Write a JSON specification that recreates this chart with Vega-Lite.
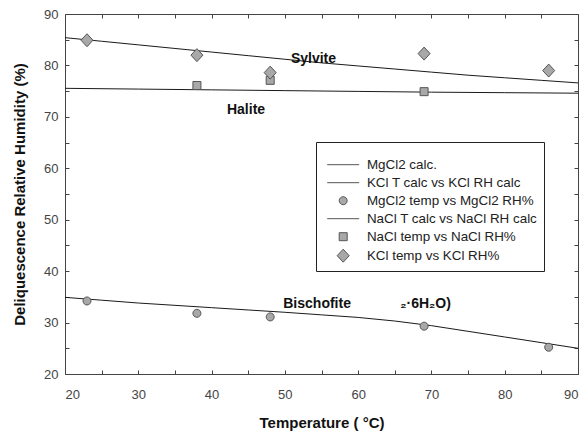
{
  "$schema": "https://vega.github.io/schema/vega-lite/v6.json",
  "width": 513,
  "height": 360,
  "autosize": {"type": "none"},
  "padding": {"left": 65, "top": 14, "right": 10, "bottom": 58},
  "config": {
    "font": "Liberation Sans",
    "view": {"stroke": null},
    "axis": {
      "grid": false,
      "domainColor": "#444",
      "tickColor": "#444",
      "tickSize": -4,
      "labelColor": "#444",
      "labelFontSize": 13,
      "labelFont": "Liberation Sans",
      "titleFont": "Liberation Sans",
      "titleFontSize": 15,
      "titleFontWeight": "bold",
      "titleColor": "#111"
    }
  },
  "datasets": {
    "calc": [
      {"series": "MgCl2 calc.", "t": 20, "rh": 34.9},
      {"series": "MgCl2 calc.", "t": 25, "rh": 34.35},
      {"series": "MgCl2 calc.", "t": 30, "rh": 33.8},
      {"series": "MgCl2 calc.", "t": 35, "rh": 33.35},
      {"series": "MgCl2 calc.", "t": 40, "rh": 32.9},
      {"series": "MgCl2 calc.", "t": 45, "rh": 32.45},
      {"series": "MgCl2 calc.", "t": 50, "rh": 32.0},
      {"series": "MgCl2 calc.", "t": 55, "rh": 31.5},
      {"series": "MgCl2 calc.", "t": 60, "rh": 31.0},
      {"series": "MgCl2 calc.", "t": 65, "rh": 30.3},
      {"series": "MgCl2 calc.", "t": 70, "rh": 29.4},
      {"series": "MgCl2 calc.", "t": 75, "rh": 28.3},
      {"series": "MgCl2 calc.", "t": 80, "rh": 27.2},
      {"series": "MgCl2 calc.", "t": 85, "rh": 26.1},
      {"series": "MgCl2 calc.", "t": 90, "rh": 25.0},
      {"series": "KCl T calc vs KCl RH calc", "t": 20, "rh": 85.4},
      {"series": "KCl T calc vs KCl RH calc", "t": 25, "rh": 84.7},
      {"series": "KCl T calc vs KCl RH calc", "t": 30, "rh": 84.0},
      {"series": "KCl T calc vs KCl RH calc", "t": 35, "rh": 83.3},
      {"series": "KCl T calc vs KCl RH calc", "t": 40, "rh": 82.6},
      {"series": "KCl T calc vs KCl RH calc", "t": 45, "rh": 81.9},
      {"series": "KCl T calc vs KCl RH calc", "t": 50, "rh": 81.2},
      {"series": "KCl T calc vs KCl RH calc", "t": 55, "rh": 80.5},
      {"series": "KCl T calc vs KCl RH calc", "t": 60, "rh": 79.9},
      {"series": "KCl T calc vs KCl RH calc", "t": 65, "rh": 79.3},
      {"series": "KCl T calc vs KCl RH calc", "t": 70, "rh": 78.7},
      {"series": "KCl T calc vs KCl RH calc", "t": 75, "rh": 78.1},
      {"series": "KCl T calc vs KCl RH calc", "t": 80, "rh": 77.6},
      {"series": "KCl T calc vs KCl RH calc", "t": 85, "rh": 77.1},
      {"series": "KCl T calc vs KCl RH calc", "t": 90, "rh": 76.6},
      {"series": "NaCl T calc vs NaCl RH calc", "t": 20, "rh": 75.55},
      {"series": "NaCl T calc vs NaCl RH calc", "t": 30, "rh": 75.4},
      {"series": "NaCl T calc vs NaCl RH calc", "t": 40, "rh": 75.25},
      {"series": "NaCl T calc vs NaCl RH calc", "t": 50, "rh": 75.1},
      {"series": "NaCl T calc vs NaCl RH calc", "t": 60, "rh": 74.95},
      {"series": "NaCl T calc vs NaCl RH calc", "t": 70, "rh": 74.8},
      {"series": "NaCl T calc vs NaCl RH calc", "t": 80, "rh": 74.7},
      {"series": "NaCl T calc vs NaCl RH calc", "t": 90, "rh": 74.6}
    ],
    "meas": [
      {"series": "MgCl2 temp vs MgCl2 RH%", "t": 23, "rh": 34.2},
      {"series": "MgCl2 temp vs MgCl2 RH%", "t": 38, "rh": 31.8},
      {"series": "MgCl2 temp vs MgCl2 RH%", "t": 48, "rh": 31.1},
      {"series": "MgCl2 temp vs MgCl2 RH%", "t": 69, "rh": 29.3},
      {"series": "MgCl2 temp vs MgCl2 RH%", "t": 86, "rh": 25.2},
      {"series": "NaCl temp vs NaCl RH%", "t": 38, "rh": 76.1},
      {"series": "NaCl temp vs NaCl RH%", "t": 48, "rh": 77.1},
      {"series": "NaCl temp vs NaCl RH%", "t": 69, "rh": 74.9},
      {"series": "KCl temp vs KCl RH%", "t": 23, "rh": 84.9},
      {"series": "KCl temp vs KCl RH%", "t": 38, "rh": 82.0},
      {"series": "KCl temp vs KCl RH%", "t": 48, "rh": 78.6},
      {"series": "KCl temp vs KCl RH%", "t": 69, "rh": 82.3},
      {"series": "KCl temp vs KCl RH%", "t": 86, "rh": 79.0}
    ],
    "labels": [
      {"label": "Sylvite", "t": 53.9, "rh": 81.2},
      {"label": "Halite", "t": 44.7, "rh": 71.3},
      {"label": "Bischofite", "t": 54.4, "rh": 33.6},
      {"label": "₂·6H₂O)", "t": 69.2, "rh": 33.6}
    ]
  },
  "layer": [
    {
      "data": {"name": "calc"},
      "mark": {"type": "line", "color": "#1a1a1a", "strokeWidth": 1},
      "encoding": {
        "x": {
          "field": "t", "type": "quantitative",
          "scale": {"domain": [20, 90], "nice": false},
          "axis": {
            "orient": "bottom",
            "values": [20, 25, 30, 35, 40, 45, 50, 55, 60, 65, 70, 75, 80, 85, 90],
            "labelExpr": "datum.value % 10 === 0 ? datum.label : ''",
            "labelPadding": 18,
            "title": "Temperature (  °C)",
            "titlePadding": 14
          }
        },
        "y": {
          "field": "rh", "type": "quantitative",
          "scale": {"domain": [20, 90], "nice": false, "zero": false},
          "axis": {
            "orient": "left",
            "values": [20, 25, 30, 35, 40, 45, 50, 55, 60, 65, 70, 75, 80, 85, 90],
            "labelExpr": "datum.value % 10 === 0 ? datum.label : ''",
            "labelPadding": 11,
            "title": "Deliquescence Relative Humidity (%)",
            "titlePadding": 16
          }
        },
        "detail": {"field": "series", "type": "nominal"}
      }
    },
    {
      "data": {"name": "meas"},
      "mark": {"type": "point", "filled": true, "fill": "#a8a8a8", "stroke": "#555", "strokeWidth": 1, "size": 100, "opacity": 1},
      "encoding": {
        "x": {
          "field": "t", "type": "quantitative",
          "scale": {"domain": [20, 90], "nice": false},
          "axis": {
            "orient": "top",
            "values": [20, 25, 30, 35, 40, 45, 50, 55, 60, 65, 70, 75, 80, 85, 90],
            "labels": false,
            "title": null
          }
        },
        "y": {
          "field": "rh", "type": "quantitative",
          "scale": {"domain": [20, 90], "nice": false, "zero": false},
          "axis": {
            "orient": "right",
            "values": [20, 25, 30, 35, 40, 45, 50, 55, 60, 65, 70, 75, 80, 85, 90],
            "labels": false,
            "title": null
          }
        },
        "shape": {
          "field": "series", "type": "nominal",
          "scale": {
            "domain": ["MgCl2 calc.", "KCl T calc vs KCl RH calc", "MgCl2 temp vs MgCl2 RH%", "NaCl T calc vs NaCl RH calc", "NaCl temp vs NaCl RH%", "KCl temp vs KCl RH%"],
            "range": [
              "M-3.2,0H3.2",
              "M-3.2,0H3.2",
              "M-0.8,0A0.8,0.8 0 1,1 0.8,0A0.8,0.8 0 1,1 -0.8,0Z",
              "M-3.2,0H3.2",
              "M-0.8,-0.8H0.8V0.8H-0.8Z",
              "M0,-1.3L1.2,0L0,1.3L-1.2,0Z"
            ]
          },
          "legend": {
            "orient": "none",
            "legendX": 251,
            "legendY": 128,
            "title": "\u2003\u2003\u2003\u2003\u2003\u2003\u2003\u2003\u2003\u2003\u2003\u2003\u2003\u2003\u2003\u2003\u2003\u2003\u2003\u2003\u2003\u2003\u2003\u2003\u2003\u2003\u2003\u2003\u2003\u2003\u2003\u2003\u2003\u2003\u2003\u2003\u2003\u2003\u2003\u2003\u2003\u2003\u2003\u2003\u2003\u2003\u2003\u2003\u2003",
            "titleFontSize": 6,
            "titlePadding": 4,
            "titleLimit": 400,
            "padding": 6,
            "strokeColor": "#222",
            "fillColor": "#ffffff",
            "labelFontSize": 13.4,
            "labelColor": "#222",
            "labelFont": "Liberation Sans",
            "labelLimit": 400,
            "symbolOffset": 14.5,
            "labelOffset": 17,
            "rowPadding": 3,
            "symbolSize": 100,
            "symbolStrokeWidth": 1,
            "encode": {
              "symbols": {
                "stroke": {"value": "#333"},
                "fill": {"value": "#a8a8a8"}
              }
            }
          }
        }
      }
    },
    {
      "data": {"name": "labels"},
      "mark": {"type": "text", "fontSize": 14, "fontWeight": "bold", "color": "#111", "font": "Liberation Sans"},
      "encoding": {
        "x": {"field": "t", "type": "quantitative", "scale": {"domain": [20, 90], "nice": false}, "axis": null},
        "y": {"field": "rh", "type": "quantitative", "scale": {"domain": [20, 90], "nice": false, "zero": false}, "axis": null},
        "text": {"field": "label", "type": "nominal"}
      }
    }
  ],
  "resolve": {"axis": {"x": "independent", "y": "independent"}}
}
